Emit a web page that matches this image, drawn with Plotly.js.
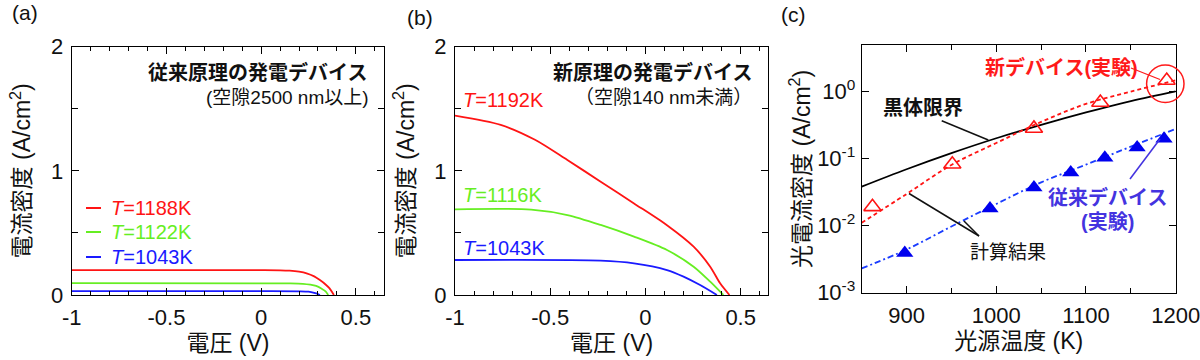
<!DOCTYPE html>
<html><head><meta charset="utf-8">
<script src="https://cdn.plot.ly/plotly-3.0.1.min.js"></script>
<style>html,body{margin:0;padding:0;background:#fff}#chart{width:1200px;height:360px}</style>
</head><body><div id="chart"></div>
<script>
// ---------- Panel (a): conventional device (gap > 2500 nm) ----------
const aLabels = ['<i>T</i>=1188K', '<i>T</i>=1122K', '<i>T</i>=1043K'];
const aRedV   = [-1, 0, 0.1, 0.15, 0.2, 0.24, 0.28, 0.31, 0.34, 0.36, 0.384];
const aRedJ   = [0.2, 0.2, 0.199, 0.196, 0.188, 0.175, 0.15, 0.12, 0.085, 0.055, 0];
const aGreenV = [-1, 0, 0.15, 0.22, 0.26, 0.29, 0.32, 0.34, 0.354];
const aGreenJ = [0.095, 0.094, 0.093, 0.09, 0.083, 0.073, 0.05, 0.03, 0];
const aBlueV  = [-1, 0, 0.2, 0.25, 0.28, 0.3, 0.31];
const aBlueJ  = [0.032, 0.031, 0.03, 0.027, 0.018, 0.008, 0];

// ---------- Panel (b): new device (gap < 140 nm) ----------
const bLabels = ['<i>T</i>=1192K', '<i>T</i>=1116K', '<i>T</i>=1043K'];
const bRedV   = [-1, -0.76, -0.58, -0.41, -0.235, -0.06, 0.113, 0.253, 0.34, 0.392, 0.441];
const bRedJ   = [1.445, 1.37, 1.25, 1.087, 0.913, 0.738, 0.562, 0.389, 0.228, 0.094, 0];
const bGreenV = [-1, -0.6, -0.41, -0.235, -0.06, 0.113, 0.253, 0.34, 0.409];
const bGreenJ = [0.69, 0.688, 0.644, 0.564, 0.47, 0.362, 0.228, 0.107, 0];
const bBlueV  = [-1, -0.235, -0.06, 0.113, 0.2, 0.287, 0.375];
const bBlueJ  = [0.282, 0.277, 0.255, 0.201, 0.148, 0.08, 0];

// ---------- Panel (c): photocurrent density vs source temperature ----------
const cCalcT       = [850, 900, 950, 1000, 1050, 1100, 1150, 1200];
const cBlackbody   = [0.038, 0.069, 0.12, 0.2, 0.316, 0.484, 0.716, 1.0];
const cCalcNew     = [0.011, 0.0295, 0.08, 0.17, 0.35, 0.65, 0.99, 1.46];
const cCalcConv    = [0.0023, 0.0044, 0.0097, 0.021, 0.044, 0.081, 0.15, 0.275];
const cNewExpT     = [862, 951, 1042, 1116, 1190];
const cNewExpJ     = [0.019, 0.082, 0.28, 0.68, 1.45];
const cConvExpT    = [898, 993, 1042, 1083, 1121, 1157, 1187];
const cConvExpJ    = [0.0039, 0.018, 0.037, 0.062, 0.102, 0.146, 0.197];

// ---------- tick labels ----------
const vTickVals = [-1, -0.5, 0, 0.5];
const vTickText = ['-1', '-0.5', '0', '0.5'];
const jTickVals = [0, 1, 2];
const jTickText = ['0', '1', '2'];
const tTickVals = [900, 1000, 1100, 1200];
const tTickText = ['900', '1000', '1100', '1200'];
const logTickVals = [0.001, 0.01, 0.1, 1];
const logTickText = ['10<sup>-3</sup>', '10<sup>-2</sup>', '10<sup>-1</sup>', '10<sup>0</sup>'];

const FONT = 'Liberation Sans, Arial, Noto Sans CJK JP, sans-serif';
const RED = '#ff1414', GREEN = '#66ee22', BLUE = '#1a1aff', CBLUE = '#4433e0';
const W = 1200, H = 360;
const px = x => x / W, py = y => 1 - y / H;

function line(x, y, color, xa, ya, dash) {
  return {x, y, type: 'scatter', mode: 'lines', xaxis: xa, yaxis: ya, showlegend: false,
    hoverinfo: 'skip', line: {color, width: 1.8, shape: dash ? 'linear' : 'spline', smoothing: 0.8, dash: dash || 'solid'}};
}

const traces = [
  line(aRedV, aRedJ, RED, 'x', 'y'),
  line(aGreenV, aGreenJ, GREEN, 'x', 'y'),
  line(aBlueV, aBlueJ, BLUE, 'x', 'y'),
  line(bRedV, bRedJ, RED, 'x2', 'y2'),
  line(bGreenV, bGreenJ, GREEN, 'x2', 'y2'),
  line(bBlueV, bBlueJ, BLUE, 'x2', 'y2'),
  {x: cCalcT, y: cBlackbody, type: 'scatter', mode: 'lines', xaxis: 'x3', yaxis: 'y3', showlegend: false,
   hoverinfo: 'skip', line: {color: '#000', width: 1.8, shape: 'spline'}},
  {x: cCalcT, y: cCalcNew, type: 'scatter', mode: 'lines', xaxis: 'x3', yaxis: 'y3', showlegend: false,
   hoverinfo: 'skip', line: {color: RED, width: 1.8, shape: 'spline', dash: '4px,3px'}},
  {x: cCalcT, y: cCalcConv, type: 'scatter', mode: 'lines', xaxis: 'x3', yaxis: 'y3', showlegend: false,
   hoverinfo: 'skip', line: {color: '#1a3cff', width: 1.8, shape: 'spline', dash: '6px,3px,2px,3px'}},
  {x: cNewExpT, y: cNewExpJ, type: 'scatter', mode: 'markers', xaxis: 'x3', yaxis: 'y3', showlegend: false,
   hoverinfo: 'skip', marker: {symbol: 'triangle-up-open', size: 15, color: RED, line: {width: 1.6, color: RED}}},
  {x: cConvExpT, y: cConvExpJ, type: 'scatter', mode: 'markers', xaxis: 'x3', yaxis: 'y3', showlegend: false,
   hoverinfo: 'skip', marker: {symbol: 'triangle-up', size: 15, color: '#0000ee'}}
];

function axis(domain, anchor, extra) {
  return Object.assign({
    domain, anchor, showline: true, linecolor: '#000', linewidth: 1, mirror: 'allticks',
    ticks: 'inside', ticklen: 7, tickcolor: '#000', tickwidth: 1, showgrid: false, zeroline: false,
    tickfont: {family: FONT, size: 22, color: '#111'}, ticklabelstandoff: 3, ticklabeloverflow: 'allow',
    fixedrange: true
  }, extra);
}
const vMinor = {ticks: 'inside', ticklen: 4, dtick: 0.1, tick0: 0, tickcolor: '#000', showgrid: false};
const jMinor = {ticks: 'inside', ticklen: 6, dtick: 0.5, tick0: 0, tickcolor: '#000', showgrid: false};
const titleFont = {family: FONT, size: 23, color: '#111'};

const domXa = [px(71.7), px(384.3)], domXb = [px(455), px(768.3)], domXc = [px(861.7), px(1175.7)];
const domYab = [py(295), py(46.7)], domYc = [py(292.7), py(45)];

const layout = {
  width: W, height: H, margin: {l: 0, r: 0, t: 0, b: 0},
  paper_bgcolor: '#fff', plot_bgcolor: '#fff', showlegend: false,
  font: {family: FONT, color: '#111'},
  xaxis: axis(domXa, 'y', {range: [-1, 0.65], tickmode: 'array', tickvals: vTickVals, ticktext: vTickText, minor: vMinor,
    title: {text: '電圧 (V)', font: titleFont, standoff: 5}}),
  yaxis: axis(domYab, 'x', {range: [0, 2], tickmode: 'array', tickvals: jTickVals, ticktext: jTickText, minor: jMinor,
    title: {text: '電流密度 (A/cm<sup>2</sup>)', font: titleFont, standoff: 13}}),
  xaxis2: axis(domXb, 'y2', {range: [-1, 0.645], tickmode: 'array', tickvals: vTickVals, ticktext: vTickText, minor: vMinor,
    title: {text: '電圧 (V)', font: titleFont, standoff: 5}}),
  yaxis2: axis(domYab, 'x2', {range: [0, 2], tickmode: 'array', tickvals: jTickVals, ticktext: jTickText, minor: jMinor,
    title: {text: '電流密度 (A/cm<sup>2</sup>)', font: titleFont, standoff: 13}}),
  xaxis3: axis(domXc, 'y3', {range: [850, 1200], tickmode: 'array', tickvals: tTickVals, ticktext: tTickText,
    minor: {ticks: 'inside', ticklen: 5, dtick: 50, tick0: 850, tickcolor: '#000', showgrid: false},
    title: {text: '光源温度 (K)', font: titleFont, standoff: 5}}),
  yaxis3: axis(domYc, 'x3', {type: 'log', range: [-3, 0.69], tickmode: 'array', tickvals: logTickVals, ticktext: logTickText,
    ticklabelstandoff: 1,
    title: {text: '光電流密度 (A/cm<sup>2</sup>)', font: titleFont, standoff: 0}}),
  annotations: [],
  shapes: []
};

function note(text, x, y, xanchor, size, color) {
  layout.annotations.push({text, x: px(x), y: py(y), xref: 'paper', yref: 'paper', xanchor, yanchor: 'middle',
    showarrow: false, font: {family: FONT, size: size || 20, color: color || '#111'}});
}
function seg(x0, y0, x1, y1, color, width) {
  layout.shapes.push({type: 'line', xref: 'paper', yref: 'paper', x0: px(x0), y0: py(y0), x1: px(x1), y1: py(y1),
    line: {color, width: width || 1.5}});
}

// panel labels
note('(a)', 25, 13, 'center', 21);
note('(b)', 420, 17, 'center', 21);
note('(c)', 793, 15, 'center', 21);

// panel (a) texts + legend
note('<b>従来原理の発電デバイス</b>', 369, 73, 'right', 20);
note('(空隙2500 nm以上)', 371, 98, 'right', 19);
const aColors = [RED, GREEN, BLUE], aRows = [208, 232, 257];
aLabels.forEach((t, i) => { note(t, 109, aRows[i], 'left', 20, aColors[i]); seg(86, aRows[i], 101, aRows[i], aColors[i], 2); });

// panel (b) texts
note('<b>新原理の発電デバイス</b>', 754, 73, 'right', 20);
note('（空隙140 nm未満）', 754, 98, 'right', 19);
const bRows = [100, 195, 248];
bLabels.forEach((t, i) => note(t, 461, bRows[i], 'left', 20, aColors[i]));

// panel (c) texts
note('<b>新デバイス(実験)</b>', 1061, 67, 'center', 20, '#ff1a1a');
note('<b>黒体限界</b>', 923, 108, 'center', 20, '#111');
note('計算結果', 1008, 253, 'center', 19, '#111');
note('<b>従来デバイス</b>', 1107, 197, 'center', 20, CBLUE);
note('<b>(実験)</b>', 1107, 222, 'center', 20, CBLUE);

// leaders
seg(1131, 68, 1160, 79.5, '#ff1a1a', 1.3);
seg(941.7, 120.7, 988.3, 140, '#111', 1.5);
seg(909, 193.5, 979, 236, '#111', 1.5);
seg(964, 221, 979, 236, '#111', 1.5);
seg(1130, 179, 1160, 139, CBLUE, 1.5);
// circle around newest experiment
layout.shapes.push({type: 'circle', xref: 'paper', yref: 'paper', x0: px(1146.6), x1: px(1184), y0: py(102.5), y1: py(65),
  line: {color: '#ff1a1a', width: 1.5}});

Plotly.newPlot('chart', traces, layout, {displayModeBar: false, staticPlot: true});
</script></body></html>
